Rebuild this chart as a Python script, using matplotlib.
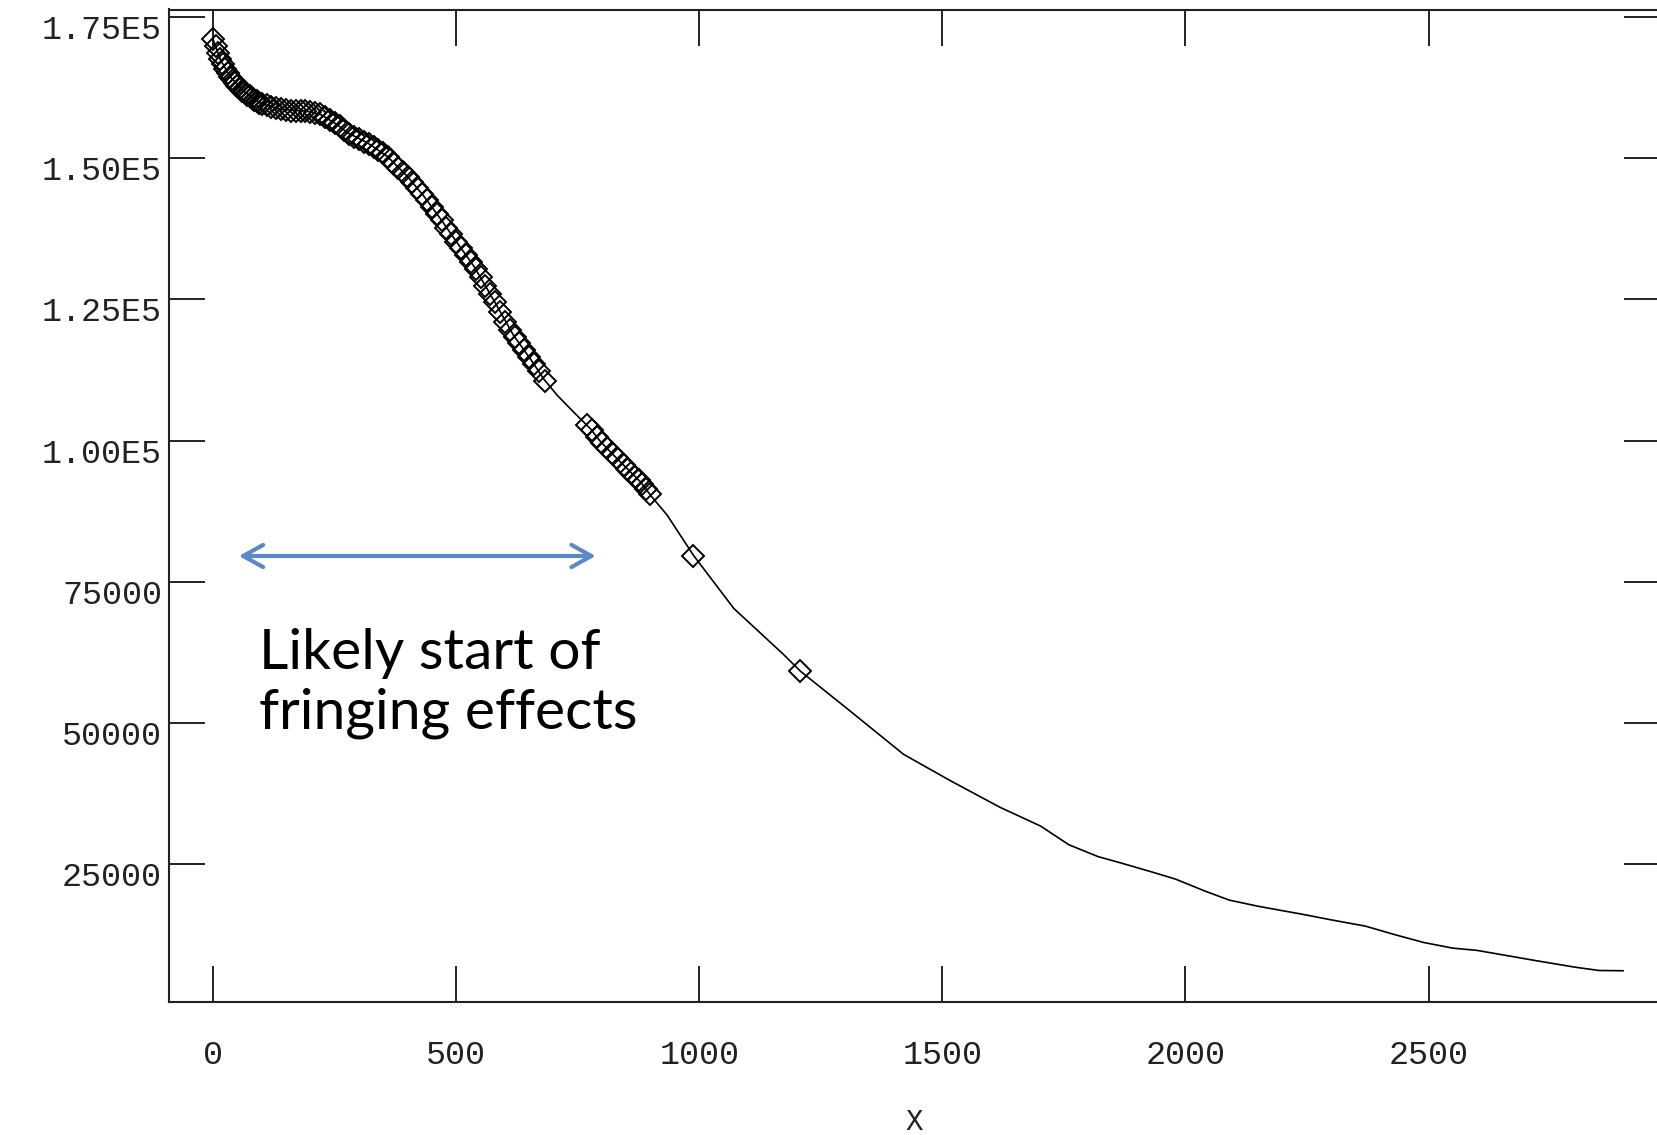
import matplotlib
matplotlib.use("Agg")
import matplotlib.pyplot as plt
from matplotlib.transforms import ScaledTranslation

# ---- data ----
line_x = [0, 15, 35, 63, 97, 138, 193, 221, 255, 276, 317, 358, 399, 433, 468, 502,
          536, 564, 590, 618, 653, 680, 708, 742, 776, 797, 824, 852, 879, 900, 934,
          988, 1071, 1174, 1208, 1311, 1420, 1517, 1619, 1702, 1760, 1820, 1870, 1930,
          1980, 2040, 2090, 2150, 2240, 2300, 2370, 2430, 2490, 2550, 2600, 2660, 2720,
          2800, 2850, 2900]
line_y = [171000, 167400, 164400, 161800, 159700, 158600, 158300, 157700, 155900, 154500,
          152700, 150300, 146800, 143300, 139200, 135000, 130900, 126800, 122900, 118600,
          114400, 110900, 108000, 105000, 102100, 99800, 97400, 95000, 92700, 90300, 86800,
          79700, 70300, 62100, 59200, 52100, 44500, 39800, 35100, 31800, 28500, 26400,
          25200, 23700, 22400, 20300, 18700, 17600, 16200, 15200, 14100, 12600, 11200,
          10200, 9800, 8900, 8000, 6850, 6250, 6200]

marker_x = [0, 5, 10, 15, 20, 25, 30, 35, 40, 45, 50, 55, 60, 65, 70, 75, 80, 85, 90, 95,
            100, 110, 120, 130, 140, 150, 160, 170, 180, 190, 200, 210, 220, 230, 240, 250,
            260, 270, 280, 290, 300, 310, 320, 330, 340, 350, 360, 370, 380, 390, 400, 410,
            420, 430, 440, 450, 460, 470, 480, 490, 500, 510, 520, 530, 540, 550, 560, 570,
            580, 590, 600, 610, 620, 630, 640, 650, 660, 670, 682,
            770, 780, 790, 800, 810, 820, 830,
            845, 852, 860, 868, 875, 882, 890, 898,
            988, 1208]
marker_y = [171000, 169800, 168500, 167500, 166600, 165800, 165000, 164400, 163800, 163200,
            162700, 162300, 161900, 161600, 161200, 160900, 160600, 160300, 160000, 159800,
            159600, 159300, 159000, 158800, 158600, 158500, 158400, 158400, 158300, 158300,
            158200, 157900, 157700, 157300, 156700, 156200, 155600, 154900, 154300, 153800,
            153300, 152900, 152500, 152000, 151400, 150800, 150100, 149200, 148300, 147500,
            146700, 145700, 144700, 143600, 142500, 141300, 140100, 139000, 137700, 136500,
            135200, 134000, 132900, 131600, 130400, 129000, 127400, 126000, 124500, 122800,
            121000, 119600, 118400, 117200, 116000, 114800, 113600, 112300, 110600,
            102700, 101800, 100600, 99500, 98600, 97800, 97000,
            95600, 95000, 94300, 93600, 93000, 92400, 91500, 90600,
            79600, 59200]

x_ticks = [0, 500, 1000, 1500, 2000, 2500]
x_tick_labels = ["0", "500", "1000", "1500", "2000", "2500"]
y_ticks = [25000, 50000, 75000, 100000, 125000, 150000, 175000]
y_tick_labels = ["25000", "50000", "75000", "1.00E5", "1.25E5", "1.50E5", "1.75E5"]
x_label = "X"

arrow_x = [53, 787]
arrow_y = 79580
note_text = "Likely start of\nfringing effects"
note_pos = (95, 49100)   # baseline of the last line

# ---- figure ----
W, H = 1658, 1135
fig = plt.figure(figsize=(W / 100, H / 100), dpi=100)
ax = fig.add_axes([169 / W, 1 - 1001.5 / H, (1660 - 169) / W, (1001.5 - 9.5) / H])

ink = "#222222"
ax.plot(line_x, line_y, color="black", lw=1.2, zorder=3)
ax.plot(marker_x, marker_y, ls="none", marker="D", ms=11, mfc="none", mec="black",
        mew=1.4, zorder=4)

ax.set_xlim(-90.7, 2976)
ax.set_ylim(760, 176270)
ax.set_xticks(x_ticks)
ax.set_xticklabels(x_tick_labels)
ax.set_yticks(y_ticks)
ax.set_yticklabels(y_tick_labels)

ax.tick_params(which="both", direction="in", length=26, width=1.4, top=True, right=True,
               color=ink, labelcolor=ink, labelsize=24)
ax.tick_params(axis="x", pad=28)
ax.tick_params(axis="y", pad=5)
for lbl in ax.get_xticklabels() + ax.get_yticklabels():
    lbl.set_fontfamily("Liberation Mono")
off = ScaledTranslation(0, -10 / 100, fig.dpi_scale_trans)
for lbl in ax.get_yticklabels():
    lbl.set_transform(lbl.get_transform() + off)

for sp in ax.spines.values():
    sp.set_linewidth(1.5)
    sp.set_color(ink)

ax.set_xlabel(x_label, family="Liberation Mono", fontsize=21, color=ink, va="center")
ax.xaxis.set_label_coords(0.5, -0.1212)

ax.annotate("", xy=(arrow_x[1], arrow_y), xytext=(arrow_x[0], arrow_y),
            arrowprops=dict(arrowstyle="<->,head_length=0.9,head_width=0.5",
                            color="#5A8AC6", lw=3, mutation_scale=16,
                            shrinkA=0, shrinkB=0, capstyle="round"), zorder=5)
ax.text(note_pos[0], note_pos[1], note_text, family="Lato", fontsize=41,
        color="black", ha="left", va="baseline", linespacing=1.2, zorder=5)

fig.savefig("out.png", dpi=100, facecolor="white")
